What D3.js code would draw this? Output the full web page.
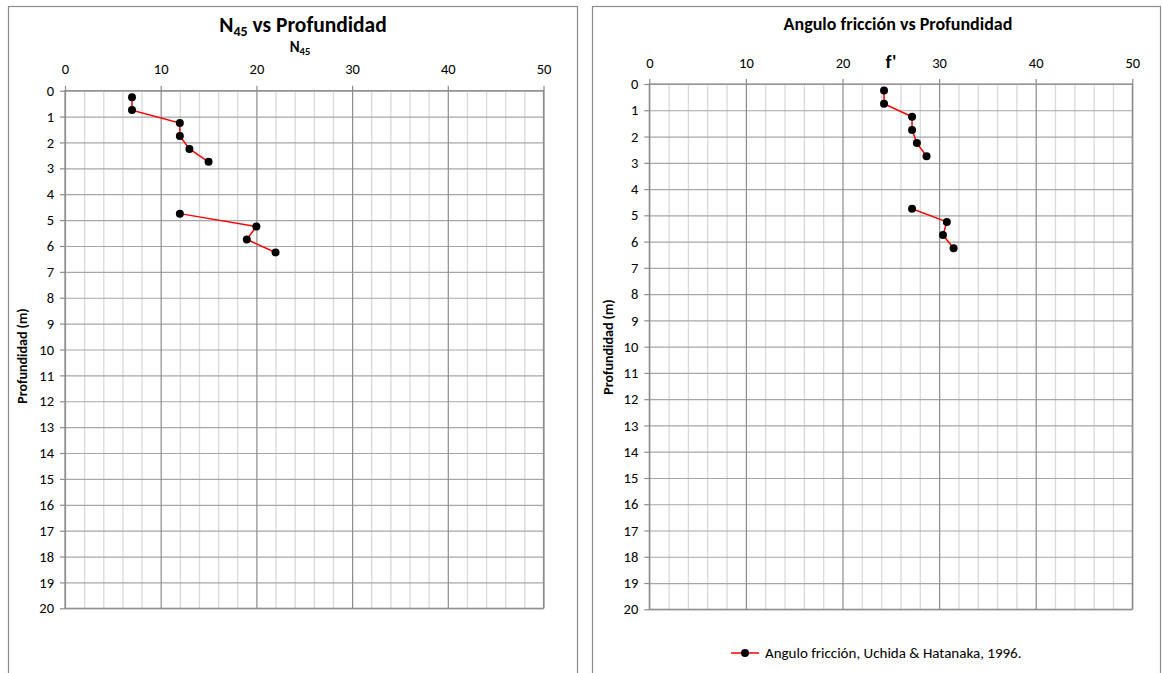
<!DOCTYPE html>
<html>
<head>
<meta charset="utf-8">
<script src="https://cdn.jsdelivr.net/npm/d3@7"></script>
<style>
  html, body { margin: 0; padding: 0; background: #fff; }
  svg { display: block; font-family: Carlito, Lato, "Liberation Sans", sans-serif; }
</style>
</head>
<body>
<svg id="chart" width="1162" height="673"></svg>
<script>
// Depth of each test (m) and the readings at that depth; null = no reading
const profundidad = [0.25, 0.75, 1.25, 1.75, 2.25, 2.75, 3.25, 3.75, 4.25, 4.75, 5.25, 5.75, 6.25];
const n45 = [7, 7, 12, 12, 13, 15, null, null, null, 12, 20, 19, 22];
const anguloFriccion = [24.3, 24.3, 27.2, 27.2, 27.7, 28.7, null, null, null, 27.2, 30.8, 30.4, 31.5];

const xTicks = [0, 10, 20, 30, 40, 50];
const xMinorTicks = d3.range(0, 51, 2);
const yTicks = d3.range(0, 21, 1);

const svg = d3.select("#chart");

const GRID_MAJOR = "#8c8c8c";
const GRID_MINOR = "#d9d9d9";
const GRID_ROW = "#a6a6a6";
const TICK_FONT = 14.5;

function panel(cfg) {
  const g = svg.append("g");

  // chart frame
  g.append("rect")
    .attr("x", cfg.frame.x + 0.5).attr("y", cfg.frame.y + 0.5)
    .attr("width", cfg.frame.w).attr("height", cfg.frame.h)
    .attr("fill", "#fff").attr("stroke", "#8c8c8c").attr("stroke-width", 1.2);

  const x = d3.scaleLinear().domain([0, 50]).range([cfg.plot.x0, cfg.plot.x1]);
  const y = d3.scaleLinear().domain([0, 20]).range([cfg.plot.y0, cfg.plot.y1]);

  // minor vertical grid (every 2)
  g.append("g")
    .attr("transform", `translate(0,${cfg.plot.y0})`)
    .call(d3.axisTop(x).tickValues(xMinorTicks.filter(v => v % 10 !== 0))
      .tickSize(-(cfg.plot.y1 - cfg.plot.y0)).tickFormat(""))
    .call(a => a.select(".domain").remove())
    .call(a => a.selectAll("line").attr("stroke", GRID_MINOR).attr("stroke-width", 1.3));

  // horizontal grid (every 1 m)
  g.append("g")
    .attr("transform", `translate(${cfg.plot.x0},0)`)
    .call(d3.axisLeft(y).tickValues(yTicks)
      .tickSize(-(cfg.plot.x1 - cfg.plot.x0)).tickFormat(""))
    .call(a => a.select(".domain").remove())
    .call(a => a.selectAll("line").attr("stroke", GRID_ROW).attr("stroke-width", 1.2));

  // major vertical grid (every 10), extending slightly above the plot as tick marks
  g.append("g")
    .attr("transform", `translate(0,${cfg.plot.y1})`)
    .call(d3.axisTop(x).tickValues(xTicks)
      .tickSize((cfg.plot.y1 - cfg.plot.y0) + 5).tickFormat(""))
    .call(a => a.select(".domain").remove())
    .call(a => a.selectAll("line").attr("stroke", GRID_MAJOR).attr("stroke-width", 1.2));

  // plot area border
  g.append("rect")
    .attr("x", cfg.plot.x0).attr("y", cfg.plot.y0)
    .attr("width", cfg.plot.x1 - cfg.plot.x0).attr("height", cfg.plot.y1 - cfg.plot.y0)
    .attr("fill", "none").attr("stroke", GRID_MAJOR).attr("stroke-width", 1.2);

  // top x axis labels
  g.append("g")
    .attr("transform", `translate(0,${cfg.plot.y0})`)
    .call(d3.axisTop(x).tickValues(xTicks).tickSize(0).tickPadding(cfg.xLabelPad))
    .call(a => a.select(".domain").remove())
    .call(a => a.selectAll("text").attr("font-size", TICK_FONT).attr("fill", "#000")
      .attr("font-family", "Carlito, Lato, sans-serif"));

  // left y axis with ticks
  g.append("g")
    .attr("transform", `translate(${cfg.plot.x0},0)`)
    .call(d3.axisLeft(y).tickValues(yTicks).tickSize(5).tickPadding(6))
    .call(a => a.select(".domain").remove())
    .call(a => a.selectAll("line").attr("stroke", GRID_MAJOR).attr("stroke-width", 1.2))
    .call(a => a.selectAll("text").attr("font-size", TICK_FONT).attr("fill", "#000")
      .attr("font-family", "Carlito, Lato, sans-serif"));

  // series
  const line = d3.line()
    .defined((d, i) => cfg.values[i] !== null)
    .x((d, i) => x(cfg.values[i]))
    .y(d => y(d));

  g.append("path")
    .datum(profundidad)
    .attr("d", line)
    .attr("fill", "none").attr("stroke", "#ff0000").attr("stroke-width", 1.5);

  g.selectAll("circle.pt")
    .data(profundidad.map((d, i) => ({ depth: d, v: cfg.values[i] })).filter(d => d.v !== null))
    .join("circle")
    .attr("class", "pt")
    .attr("cx", d => x(d.v)).attr("cy", d => y(d.depth))
    .attr("r", 4).attr("fill", "#000");

  // y axis title
  g.append("text")
    .attr("transform", `translate(${cfg.yTitle.x},${cfg.yTitle.y}) rotate(-90)`)
    .attr("text-anchor", "middle")
    .attr("font-size", 14).attr("font-weight", "bold")
    .text("Profundidad (m)");

  return { g, x, y };
}

// Left panel: N45 vs depth
const left = panel({
  frame: { x: 8, y: 6, w: 569, h: 700 },
  plot: { x0: 65, x1: 543.5, y0: 90.7, y1: 608.3 },
  values: n45,
  xLabelPad: 17,
  yTitle: { x: 27, y: 356 }
});

const t1 = left.g.append("text")
  .attr("x", 303).attr("y", 32)
  .attr("text-anchor", "middle")
  .attr("font-size", 21.5).attr("font-weight", "bold");
t1.append("tspan").text("N");
t1.append("tspan").attr("font-size", 14).attr("dy", 4).text("45");
t1.append("tspan").attr("dy", -4).text(" vs Profundidad");

const t2 = left.g.append("text")
  .attr("x", 300).attr("y", 52)
  .attr("text-anchor", "middle")
  .attr("font-size", 15).attr("font-weight", "bold");
t2.append("tspan").text("N");
t2.append("tspan").attr("font-size", 10.5).attr("dy", 3).text("45");

// Right panel: friction angle vs depth
const right = panel({
  frame: { x: 592, y: 6, w: 568, h: 700 },
  plot: { x0: 649.3, x1: 1132.3, y0: 84, y1: 609.3 },
  values: anguloFriccion,
  xLabelPad: 16.5,
  yTitle: { x: 613, y: 347 }
});

right.g.append("text")
  .attr("x", 898).attr("y", 30)
  .attr("text-anchor", "middle")
  .attr("font-size", 18).attr("font-weight", "bold")
  .text("Angulo fricción vs Profundidad");

right.g.append("text")
  .attr("x", 891).attr("y", 68)
  .attr("text-anchor", "middle")
  .attr("font-size", 19).attr("font-weight", "bold")
  .text("f'");

// legend
const leg = right.g.append("g").attr("transform", "translate(731,653)");
leg.append("line").attr("x1", 0).attr("x2", 28).attr("y1", 0).attr("y2", 0)
  .attr("stroke", "#ff0000").attr("stroke-width", 1.5);
leg.append("circle").attr("cx", 14).attr("cy", 0).attr("r", 4).attr("fill", "#000");
leg.append("text").attr("x", 34).attr("y", 5)
  .attr("font-size", 15)
  .text("Angulo fricción, Uchida & Hatanaka, 1996.");
</script>
</body>
</html>
